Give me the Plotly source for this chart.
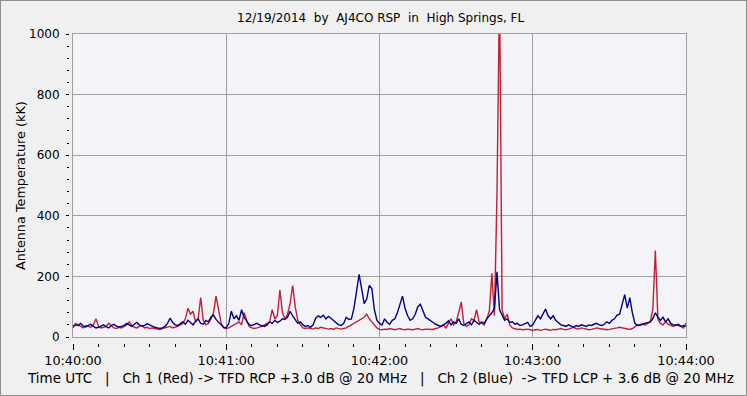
import pandas as pd
import plotly.graph_objects as go

start_time = "2014-12-19 10:40:00"

# Antenna temperature (kK), one sample per second, 10:40:00 .. 10:44:00
ch2_blue = [
    35, 40, 38, 45, 36, 33, 38, 42, 35, 30,
    32, 36, 40, 34, 30, 38, 42, 36, 33, 35,
    38, 45, 40, 35, 42, 48, 40, 36, 38, 44,
    40, 35, 32, 30, 28, 30, 35, 45, 62, 48,
    40, 38, 45, 50, 42, 55, 48, 40, 52, 60,
    45, 42, 55, 50, 65, 72, 58, 48, 40, 32,
    30, 45, 85, 60, 70, 55, 90, 65, 50, 40,
    38, 42, 45, 40, 38, 35, 40, 50, 45, 55,
    48, 52, 60, 58, 65, 85, 70, 55, 45, 50,
    40, 35, 38, 32, 40, 62, 70, 65, 72, 60,
    68, 62, 55, 45, 40, 38, 45, 65, 58, 60,
    95, 150, 207, 160, 110, 125, 170, 160, 90, 55,
    45, 40, 60, 48, 42, 55, 60, 80, 110, 135,
    95, 70, 55, 60, 75, 100, 108, 85, 65, 60,
    55, 48, 42, 38, 35, 40, 45, 53, 40, 50,
    45, 60, 42, 38, 45, 50, 40, 55, 48, 42,
    50, 45, 60, 70, 80, 95, 215, 90, 70, 55,
    60, 48, 50, 42, 45, 38, 40, 45, 48, 35,
    40, 55, 70, 60, 75, 92, 70, 60, 70, 55,
    48, 40, 38, 35, 40, 35, 32, 38, 35, 40,
    38, 35, 40, 38, 42, 45, 40, 38, 42, 50,
    45, 55, 60, 72, 75, 110, 140, 95, 130, 80,
    45, 38, 40, 42, 45, 48, 50, 60, 80, 65,
    55, 65, 50, 60, 45, 40, 38, 42, 35, 38,
    35,
]

ch1_red = [
    30, 45, 40, 35, 30, 38, 35, 32, 40, 60,
    35, 30, 32, 35, 45, 38, 30, 28, 32, 30,
    35, 40, 50, 38, 32, 30, 35, 38, 30, 32,
    28, 30, 28, 26, 25, 28, 30, 32, 35, 30,
    32, 35, 40, 45, 60, 95, 75, 85, 50, 60,
    130, 55, 40, 45, 60, 80, 135, 90, 45, 30,
    28, 30, 35, 40, 45, 50, 40, 80, 55, 35,
    30, 28, 30, 32, 35, 40, 45, 50, 90, 60,
    70, 155, 80, 60, 75, 110, 170, 100, 55, 40,
    30, 28, 30, 28, 26, 30, 28, 32, 30, 28,
    26, 28, 25, 30, 28, 26, 28, 30, 35, 40,
    45, 50, 55, 60, 65, 75, 60, 50, 40, 30,
    25, 24, 26, 25, 28, 25, 24, 26, 28, 25,
    24, 26, 25, 24, 26, 28, 25, 24, 26, 25,
    24, 25, 28, 30, 35, 40, 30, 45, 60, 40,
    50, 80, 115, 45, 35, 40, 60, 55, 90, 50,
    45, 40, 60, 85, 210, 70, 475, 1150, 90, 60,
    75, 40, 30, 28, 25, 26, 24, 25, 26, 24,
    22, 24, 25, 22, 24, 26, 24, 22, 25, 24,
    26, 28, 25, 24, 26, 30, 32, 28, 26, 30,
    28, 26, 24, 25, 28, 30, 28, 26, 25, 24,
    25, 26, 28, 30, 32, 30, 28, 26, 25, 28,
    35, 40, 38, 42, 40, 45, 50, 90, 285, 60,
    45, 40, 50, 42, 38, 35, 40, 38, 35, 30,
    45,
]

times = pd.date_range(start_time, periods=len(ch2_blue), freq="1s")
x_range = [times[0], times[-1]]
y_range = [0, 1000]

title_text = "12/19/2014\u00a0\u00a0by\u00a0\u00a0AJ4CO RSP\u00a0\u00a0in\u00a0\u00a0High Springs, FL"
footer_text = ("Time UTC\u00a0\u00a0\u00a0|\u00a0\u00a0\u00a0Ch 1 (Red) -> TFD RCP +3.0 dB @ 20 MHz"
               "\u00a0\u00a0\u00a0|\u00a0\u00a0\u00a0Ch 2 (Blue)\u00a0\u00a0-> TFD LCP + 3.6 dB @ 20 MHz")
y_title = "Antenna Temperature (kK)"

FONT = "DejaVu Sans"
GRID = "#a0a0a0"

fig = go.Figure()
fig.add_trace(go.Scatter(x=times, y=ch1_red, mode="lines",
                         line=dict(color="#c01f35", width=1.4), hoverinfo="skip",
                         showlegend=False))
fig.add_trace(go.Scatter(x=times, y=ch2_blue, mode="lines",
                         line=dict(color="#000088", width=1.4), hoverinfo="skip",
                         showlegend=False))
# invisible carrier trace for the tick-only axes
fig.add_trace(go.Scatter(x=times, y=ch2_blue, xaxis="x2", yaxis="y2", mode="lines",
                         line=dict(width=0), opacity=0, hoverinfo="skip",
                         showlegend=False))

W, H = 747, 396
L, R, T, B = 69, 61, 34, 53
plot_w = W - L - R
plot_h = H - T - B

fig.update_layout(
    width=W, height=H,
    margin=dict(l=L, r=R, t=T, b=B, pad=0),
    paper_bgcolor="#f0f0f0",
    plot_bgcolor="#f4f4f8",
    font=dict(family=FONT, size=12, color="#000000"),
    xaxis=dict(
        type="date", range=x_range, domain=[4 / plot_w, 1],
        showgrid=True, gridcolor=GRID, gridwidth=1, dtick=60000,
        showline=True, linecolor=GRID, linewidth=1, mirror=True,
        ticks="", showticklabels=False, zeroline=False,
    ),
    yaxis=dict(
        range=y_range, domain=[6 / plot_h, 1],
        showgrid=True, gridcolor=GRID, gridwidth=1, dtick=200,
        showline=True, linecolor=GRID, linewidth=1, mirror=True,
        ticks="", showticklabels=False, zeroline=False,
    ),
    xaxis2=dict(
        type="date", range=x_range, overlaying="x", anchor="free", position=0,
        matches="x", showgrid=False, showline=False, zeroline=False,
        ticks="outside", ticklen=6, tickcolor="#000000", tickwidth=1,
        dtick=60000, tickformat="%H:%M:%S",
        tickfont=dict(family=FONT, size=12.8, color="#000000"),
        minor=dict(ticks="outside", ticklen=3, dtick=10000, tickcolor="#000000", showgrid=False),
    ),
    yaxis2=dict(
        range=y_range, overlaying="y", anchor="free", position=0,
        showgrid=False, showline=False, zeroline=False,
        ticks="outside", ticklen=3, tickcolor="#000000", tickwidth=1,
        dtick=200, ticklabelstandoff=4,
        tickfont=dict(family=FONT, size=12, color="#000000"),
        minor=dict(ticks="outside", ticklen=2, dtick=40, tickcolor="#000000", showgrid=False),
    ),
    annotations=[
        dict(text=title_text, xref="paper", yref="paper",
             x=(380 - L) / plot_w, y=(H - B - 18) / plot_h,
             xanchor="center", yanchor="middle", showarrow=False,
             font=dict(family=FONT, size=12, color="#000000")),
        dict(text=footer_text, xref="paper", yref="paper",
             x=(381 - L) / plot_w, y=(H - B - 378) / plot_h,
             xanchor="center", yanchor="middle", showarrow=False,
             font=dict(family=FONT, size=13.5, color="#000000")),
        dict(text=y_title, xref="paper", yref="paper",
             x=(20 - L) / plot_w, y=(H - B - 186) / plot_h, textangle=-90,
             xanchor="center", yanchor="middle", showarrow=False,
             font=dict(family=FONT, size=12.8, color="#000000")),
    ],
    shapes=[
        dict(type="rect", xref="paper", yref="paper",
             x0=-L / plot_w, x1=1 + R / plot_w, y0=-B / plot_h, y1=1 + T / plot_h,
             line=dict(color="#909090", width=2), fillcolor="rgba(0,0,0,0)", layer="below"),
    ],
)

fig.write_html("out.html", config={"displayModeBar": False},
               post_script="document.body.style.margin='0';")
